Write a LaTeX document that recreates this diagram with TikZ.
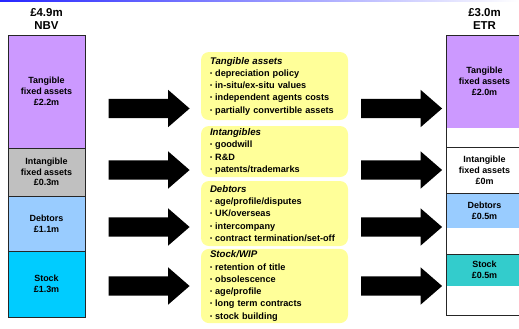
\documentclass[tikz,border=0pt]{standalone}
\usepackage{fontspec}
\setmainfont{Liberation Sans}
\usetikzlibrary{shapes.arrows}

\definecolor{tfapurple}{HTML}{CC99FF}
\definecolor{ifagrey}{HTML}{C0C0C0}
\definecolor{debblue}{HTML}{99CCFF}
\definecolor{stkcyan}{HTML}{00CCFF}
\definecolor{stkteal}{HTML}{33CCCC}
\definecolor{noteyellow}{HTML}{FFFF99}

\newcommand{\bul}{{\fontsize{6}{6}\selectfont\raisebox{0.3ex}{\textbullet}}\ }

\begin{document}
\begin{tikzpicture}[
  x=1bp, y=-1bp,
  align=center,
  font=\bfseries\fontsize{9}{10.8}\selectfont,
  % column blocks
  seg/.style={draw=black!85, line width=0.8pt, minimum width=77bp, inner sep=0pt},
  valfill/.style={minimum width=77bp, inner sep=0pt},
  header/.style={font=\bfseries\fontsize{11.5}{13.5}\selectfont},
  % notes and arrows
  note/.style={fill=noteyellow, rounded corners=8bp, minimum width=147bp, text width=129bp,
    inner xsep=9bp, inner ysep=2bp, align=left, font=\bfseries\fontsize{9.2}{12.3}\selectfont},
  bigarrow/.style={single arrow, fill=black, draw=none, inner xsep=0pt, inner ysep=9.5bp,
    minimum height=81bp, single arrow head extend=9bp, single arrow tip angle=82,
    single arrow head indent=0pt}
]
  \useasboundingbox (0,0) rectangle (519,328);
  \clip (0,0) rectangle (519,328);

  % top rule
  \shade[left color=blue!85, right color=white] (0,0) rectangle (519,1.6);

  % ===== NBV column =====
  \node[header] (nbvhead) at (46.5,19) {£4.9m\\NBV};
  \node[seg, fill=tfapurple, minimum height=113bp] (nbvtfa) at (46.5,91.5) {Tangible\\fixed assets\\£2.2m};
  \node[seg, fill=ifagrey, minimum height=48bp] (nbvifa) at (46.5,172) {Intangible\\fixed assets\\£0.3m};
  \node[seg, fill=debblue, minimum height=55bp] (nbvdeb) at (46.5,223.5) {Debtors\\£1.1m};
  \node[seg, fill=stkcyan, minimum height=66bp] (nbvstk) at (46.5,284) {Stock\\£1.3m};

  % ===== notes =====
  \node[note, minimum height=68bp] (notetfa) at (274.5,86) {%
    {\itshape\fontsize{9.7}{12.3}\selectfont Tangible assets}\\
    \bul depreciation policy\\
    \bul in-situ/ex-situ values\\
    \bul independent agents costs\\
    \bul partially convertible assets};
  \node[note, minimum height=51bp] (noteifa) at (274.5,151.5) {%
    {\itshape\fontsize{9.7}{12.3}\selectfont Intangibles}\\
    \bul goodwill\\
    \bul R\&D\\
    \bul patents/trademarks};
  \node[note, minimum height=65bp] (notedeb) at (274.5,213.5) {%
    {\itshape\fontsize{9.7}{12.3}\selectfont Debtors}\\
    \bul age/profile/disputes\\
    \bul UK/overseas\\
    \bul intercompany\\
    \bul contract termination/set-off};
  \node[note, minimum height=74bp] (notestk) at (274.5,286) {%
    {\itshape\fontsize{9.7}{12.3}\selectfont Stock/WIP}\\
    \bul retention of title\\
    \bul obsolescence\\
    \bul age/profile\\
    \bul long term contracts\\
    \bul stock building};

  % ===== arrows =====
  \node[bigarrow] (intfa) at (143.5,108.5) {};
  \node[bigarrow] (inifa) at (143.5,170) {};
  \node[bigarrow] (indeb) at (143.5,227) {};
  \node[bigarrow] (instk) at (143.5,286) {};
  \node[bigarrow] (outtfa) at (396,108.5) {};
  \node[bigarrow] (outifa) at (396,170) {};
  \node[bigarrow] (outdeb) at (396,227) {};
  \node[bigarrow] (outstk) at (396,286) {};

  % ===== ETR column =====
  \node[header] (etrhead) at (484.5,19) {£3.0m\\ETR};
  \node[valfill, fill=tfapurple, minimum height=93bp, text depth=-6bp] (etrtfaval) at (484.5,81.5) {Tangible\\fixed assets\\£2.0m};
  \node[valfill, fill=debblue, minimum height=35bp, text depth=-4bp] (etrdebval) at (484.5,210.5) {Debtors\\£0.5m};
  \node[valfill, fill=stkteal, minimum height=32bp, text depth=-4bp] (etrstkval) at (484.5,270) {Stock\\£0.5m};
  \node[seg, minimum height=112bp] (etrtfa) at (484.5,91) {};
  \node[seg, minimum height=46bp, text depth=-3bp] (etrifa) at (484.5,170) {Intangible\\fixed assets\\£0m};
  \node[seg, minimum height=61bp] (etrdeb) at (484.5,223.5) {};
  \node[seg, minimum height=61bp] (etrstk) at (484.5,284.5) {};
\end{tikzpicture}
\end{document}
